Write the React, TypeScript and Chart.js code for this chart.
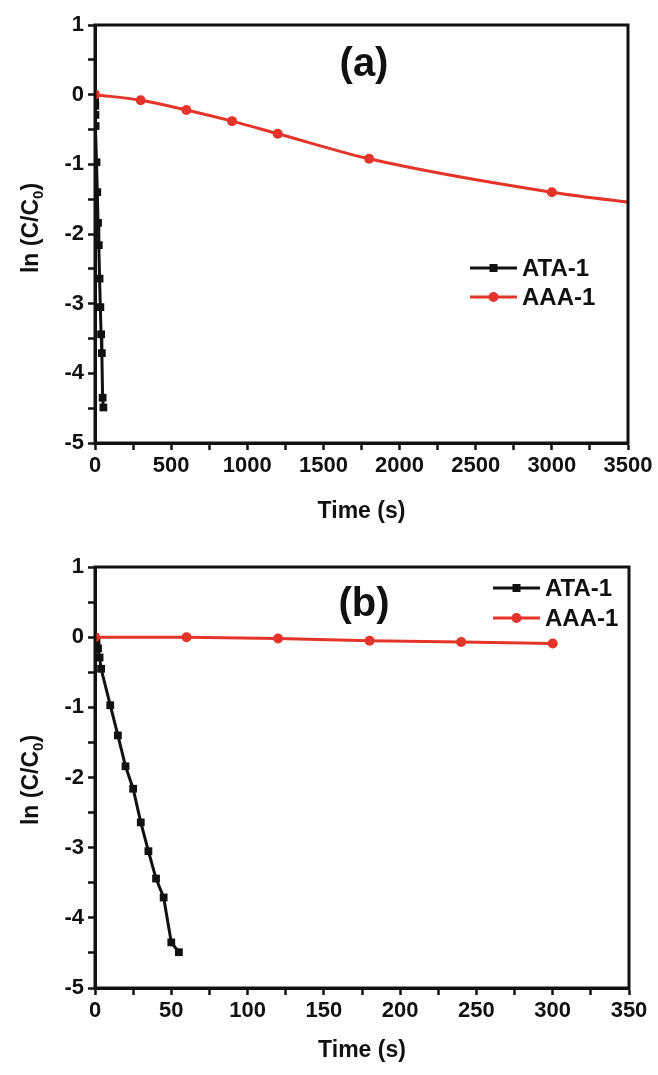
import React, { useEffect, useRef } from "react";
import { Chart, registerables } from "chart.js";

Chart.register(...registerables);

// ---------- data ----------
const ataTime = [0, 1, 2, 3, 4, 10, 15, 20, 25, 30, 35, 40, 45, 50, 55];
const ataLn = [0, -0.07, -0.16, -0.29, -0.45, -0.97, -1.4, -1.84, -2.16, -2.64, -3.05, -3.44, -3.71, -4.35, -4.49];

const aaaTimeA = [0, 300, 600, 900, 1200, 1800, 3000, 3600];
const aaaLnA = [0, -0.08, -0.22, -0.38, -0.56, -0.92, -1.4, -1.57];

const aaaTimeB = [0, 60, 120, 180, 240, 300];
const aaaLnB = [0, 0, -0.02, -0.05, -0.07, -0.09];

const seriesNames = ["ATA-1", "AAA-1"];
const panelTitles = ["(a)", "(b)"];
const xTitle = "Time (s)";

const FONT = "'Liberation Sans', Arial, Helvetica, sans-serif";
const BLACK = "#111111";
const RED = "#E5352B";

const pts = (xs: number[], ys: number[]) => xs.map((x, i) => ({ x, y: ys[i] }));

const decorPlugin = {
  id: "decor",
  afterDraw(chart: any) {
    const o = chart.options.plugins.decor;
    const ctx = chart.ctx;
    const { left, top, right, bottom } = chart.chartArea;
    ctx.save();
    // frame
    ctx.strokeStyle = BLACK;
    ctx.lineWidth = 3;
    ctx.strokeRect(left, top, right - left, bottom - top);

    // panel title
    ctx.fillStyle = BLACK;
    ctx.font = `bold 40px ${FONT}`;
    ctx.textAlign = "center";
    ctx.textBaseline = "middle";
    ctx.fillText(o.title, o.titleX, o.titleY);

    // y-axis title with subscript
    ctx.save();
    ctx.translate(o.yTitleX, o.yTitleY);
    ctx.rotate(-Math.PI / 2);
    const main = `bold 23px ${FONT}`;
    const sub = `bold 15px ${FONT}`;
    const p1 = "ln (C/C";
    const p2 = "0";
    const p3 = ")";
    ctx.font = main;
    const w1 = ctx.measureText(p1).width;
    const w3 = ctx.measureText(p3).width;
    ctx.font = sub;
    const w2 = ctx.measureText(p2).width;
    const total = w1 + w2 + w3;
    let x = -total / 2;
    ctx.textAlign = "left";
    ctx.textBaseline = "alphabetic";
    ctx.font = main;
    ctx.fillText(p1, x, 8);
    x += w1;
    ctx.font = sub;
    ctx.fillText(p2, x, 13);
    x += w2;
    ctx.font = main;
    ctx.fillText(p3, x, 8);
    ctx.restore();

    // legend
    chart.data.datasets.forEach((ds: any, i: number) => {
      const y = o.legY + i * o.legGap;
      const x0 = o.legX;
      ctx.strokeStyle = ds.borderColor;
      ctx.lineWidth = 3;
      ctx.beginPath();
      ctx.moveTo(x0, y);
      ctx.lineTo(x0 + 47, y);
      ctx.stroke();
      ctx.fillStyle = ds.pointBackgroundColor;
      if (ds.pointStyle === "rect") {
        ctx.fillRect(x0 + 23.5 - 4, y - 4, 8, 8);
      } else {
        ctx.beginPath();
        ctx.arc(x0 + 23.5, y, 5, 0, Math.PI * 2);
        ctx.fill();
      }
      ctx.fillStyle = BLACK;
      ctx.font = `bold 24px ${FONT}`;
      ctx.textAlign = "left";
      ctx.textBaseline = "middle";
      ctx.fillText(ds.label, x0 + 52, y + 1);
    });
    ctx.restore();
  },
};

function buildConfig(p: {
  aaa: { x: number; y: number }[];
  xMax: number;
  xStep: number;
  xLabelStep: number;
  smooth: boolean;
  padTop: number;
  padRight: number;
  xAxisH: number;
  titlePadBottom: number;
  decor: any;
}): any {
  const tickFont = { family: FONT, size: 22, weight: "bold" as const };
  return {
    type: "line",
    data: {
      datasets: [
        {
          label: seriesNames[0],
          data: pts(ataTime, ataLn),
          borderColor: BLACK,
          backgroundColor: BLACK,
          pointBackgroundColor: BLACK,
          pointBorderColor: BLACK,
          pointStyle: "rect",
          pointRadius: 5.5,
          pointBorderWidth: 0,
          borderWidth: 3,
          tension: 0,
          order: 1,
        },
        {
          label: seriesNames[1],
          data: p.aaa,
          borderColor: RED,
          backgroundColor: RED,
          pointBackgroundColor: RED,
          pointBorderColor: RED,
          pointStyle: "circle",
          pointRadius: 5,
          pointBorderWidth: 0,
          borderWidth: 3,
          cubicInterpolationMode: p.smooth ? "monotone" : "default",
          tension: p.smooth ? 0.4 : 0,
          order: 0,
        },
      ],
    },
    options: {
      animation: false,
      responsive: false,
      devicePixelRatio: 1,
      layout: { padding: { top: p.padTop, right: p.padRight, left: 0, bottom: 0 } },
      plugins: {
        legend: { display: false },
        tooltip: { enabled: false },
        decor: p.decor,
      },
      scales: {
        x: {
          type: "linear",
          min: 0,
          max: p.xMax,
          ticks: {
            stepSize: p.xStep,
            autoSkip: false,
            maxRotation: 0,
            color: BLACK,
            font: tickFont,
            padding: 3,
            callback: (v: number) => (Math.abs(v % p.xLabelStep) < 1e-9 ? String(v) : ""),
          },
          grid: { drawOnChartArea: false, drawTicks: true, tickLength: 7, tickWidth: 2.5, tickColor: BLACK },
          border: { width: 3, color: BLACK },
          title: {
            display: true,
            text: xTitle,
            color: BLACK,
            font: { family: FONT, size: 23, weight: "bold" },
            padding: { top: 0, bottom: p.titlePadBottom },
          },
          afterFit: (s: any) => {
            s.height = p.xAxisH;
          },
        },
        y: {
          type: "linear",
          min: -5,
          max: 1,
          ticks: {
            stepSize: 0.5,
            autoSkip: false,
            color: BLACK,
            font: tickFont,
            padding: 4,
            callback: (v: number) => (Math.abs(v % 1) < 1e-9 ? String(v) : ""),
          },
          grid: { drawOnChartArea: false, drawTicks: true, tickLength: 7, tickWidth: 2.5, tickColor: BLACK },
          border: { width: 3, color: BLACK },
          afterFit: (s: any) => {
            s.width = 95;
          },
        },
      },
    },
    plugins: [decorPlugin],
  };
}

function Panel({ height, config }: { height: number; config: () => any }) {
  const ref = useRef<HTMLCanvasElement>(null);
  useEffect(() => {
    const chart = new Chart(ref.current as HTMLCanvasElement, config());
    return () => chart.destroy();
  }, []);
  return (
    <canvas ref={ref} width={658} height={height} style={{ display: "block", width: 658, height }} />
  );
}

export default function App() {
  return (
    <div style={{ position: "absolute", left: 0, top: 0, width: 658, height: 1075, background: "#fff" }}>
      <Panel
        height={540}
        config={() =>
          buildConfig({
            aaa: pts(aaaTimeA, aaaLnA),
            xMax: 3500,
            xStep: 250,
            xLabelStep: 500,
            smooth: true,
            padTop: 25,
            padRight: 30,
            xAxisH: 97,
            titlePadBottom: 15,
            decor: {
              title: panelTitles[0],
              titleX: 364,
              titleY: 65,
              yTitleX: 30,
              yTitleY: 228,
              legX: 470,
              legY: 268,
              legGap: 29,
            },
          })
        }
      />
      <Panel
        height={535}
        config={() =>
          buildConfig({
            aaa: pts(aaaTimeB, aaaLnB),
            xMax: 350,
            xStep: 25,
            xLabelStep: 50,
            smooth: false,
            padTop: 27,
            padRight: 29,
            xAxisH: 87,
            titlePadBottom: 11,
            decor: {
              title: panelTitles[1],
              titleX: 364,
              titleY: 65,
              yTitleX: 30,
              yTitleY: 240,
              legX: 493,
              legY: 48,
              legGap: 30,
            },
          })
        }
      />
    </div>
  );
}
